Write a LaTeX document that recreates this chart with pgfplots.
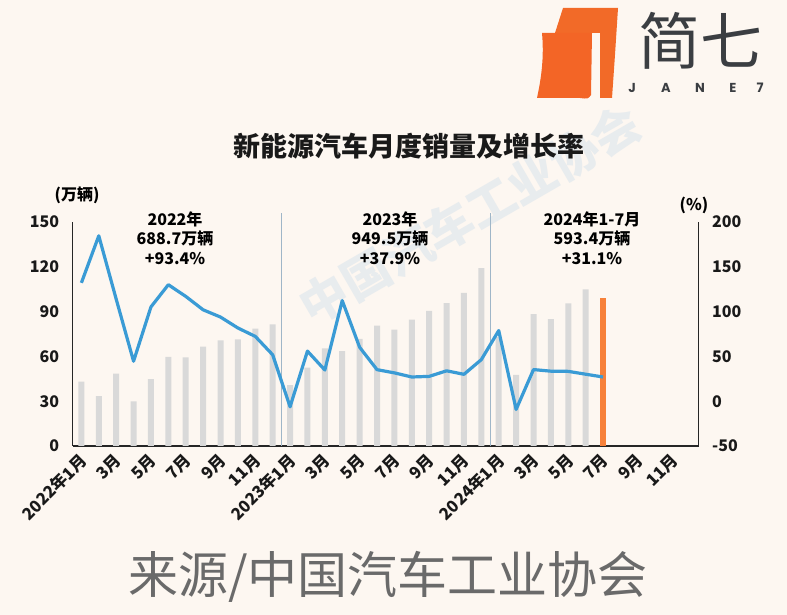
\documentclass[border=0pt]{standalone}
\usepackage{pgfplots}
\pgfplotsset{compat=1.18}
\usepackage{fontspec}
\setmainfont{Noto Sans CJK SC}
\newfontfamily\logofont{Poppins}
\definecolor{bg}{HTML}{FDF7F1}
\definecolor{bargray}{HTML}{D9D9D9}
\definecolor{barorange}{HTML}{F7813A}
\definecolor{lineblue}{HTML}{3A9BD5}
\definecolor{vline}{HTML}{9FB6C8}
\definecolor{logoorange}{HTML}{F26A28}
\definecolor{logogray}{HTML}{3B3E42}
\definecolor{srcgray}{HTML}{6A6A6A}
\definecolor{wm}{HTML}{E8ECEE}
\pgfplotstableread{
x v
0 43.1
1 33.4
2 48.4
3 29.9
4 44.7
5 59.6
6 59.3
7 66.6
8 70.8
9 71.4
10 78.6
11 81.4
12 40.8
13 52.5
14 65.3
15 63.6
16 71.7
17 80.6
18 78.0
19 84.6
20 90.4
21 95.6
22 102.6
23 119.1
24 72.9
25 47.7
26 88.3
27 85.0
28 95.5
29 104.9
}\sales
\pgfplotstableread{
x v
30 99.1
}\salesjul
\pgfplotstableread{
x g
0 132.1
1 184.6
2 114.0
3 44.6
4 105.2
5 130.0
6 117.0
7 102.0
8 93.9
9 81.7
10 72.3
11 51.8
12 -6.3
13 55.9
14 34.8
15 112.3
16 60.2
17 35.2
18 31.6
19 27.0
20 27.7
21 33.9
22 30.0
23 46.4
24 78.8
25 -9.2
26 35.3
27 33.5
28 33.3
29 30.1
30 27.0
}\growth
\begin{document}
\begin{tikzpicture}[x=1pt,y=1pt]
\fill[bg] (0,0) rectangle (787,615);
% watermark
\node[rotate=30, text=wm, font=\bfseries\fontsize{48}{48}\selectfont] at (470,400) {中国汽车工业协会};
\begin{axis}[
  at={(72.7pt,169pt)}, anchor=south west, scale only axis,
  width=626pt, height=224pt,
  xmin=-0.5, xmax=35.5, ymin=0, ymax=150,
  axis x line*=bottom, axis y line*=left,
  axis line style={-, line width=1.1pt, black!85},
  ybar, bar width=6pt, bar shift=0pt,
  ytick={0,30,60,90,120,150},
  xtick={0,2,...,34},
  xticklabels={2022年1月,3月,5月,7月,9月,11月,2023年1月,3月,5月,7月,9月,11月,2024年1月,3月,5月,7月,9月,11月},
  major tick length=0pt,
  /pgf/number format/assume math mode=true,
  yticklabel style={font=\bfseries\fontsize{16}{16}\selectfont, text=black!90, xshift=-10pt},
  xticklabel style={xshift=-3pt, yshift=-6pt, rotate=45, anchor=north east, font=\bfseries\fontsize{16.5}{16.5}\selectfont, text=black!90, inner sep=0pt},
  clip=false,
]
\addplot[fill=bargray, draw=none] table[x=x, y=v] {\sales};
\addplot[fill=barorange, draw=none] table[x=x, y=v] {\salesjul};
\draw[vline, line width=0.8pt] (axis cs:11.5,0) -- (axis cs:11.5,156);
\draw[vline, line width=0.8pt] (axis cs:23.5,0) -- (axis cs:23.5,156);
\end{axis}
\begin{axis}[
  at={(72.7pt,169pt)}, anchor=south west, scale only axis,
  width=626pt, height=224pt,
  xmin=-0.5, xmax=35.5, ymin=-50, ymax=200,
  axis x line=none, axis y line*=right,
  axis line style={-, line width=1.1pt, black!85},
  ytick={-50,0,50,100,150,200},
  major tick length=0pt,
  /pgf/number format/assume math mode=true,
  yticklabel style={font=\bfseries\fontsize{16}{16}\selectfont, text=black!90, xshift=10pt},
  clip=false,
]
\addplot[color=lineblue, line width=3.2pt, line join=round, mark=none] table[x=x, y=g] {\growth};
\end{axis}
% axis unit labels
\node[font=\bfseries\fontsize{16}{16}\selectfont] at (77,420) {(万辆)};
\node[font=\bfseries\fontsize{16}{16}\selectfont] at (694,410) {(\%)};
% annotations
\node[align=center, font=\bfseries\fontsize{16}{19.5}\selectfont] at (175,377) {2022年\\688.7万辆\\+93.4\%};
\node[align=center, font=\bfseries\fontsize{16}{19.5}\selectfont] at (390,377) {2023年\\949.5万辆\\+37.9\%};
\node[align=center, font=\bfseries\fontsize{16}{19.5}\selectfont] at (592,377) {2024年1-7月\\593.4万辆\\+31.1\%};
% title
\node[font=\bfseries\fontsize{27}{27}\selectfont, text=black!90] at (409,469) {新能源汽车月度销量及增长率};
% source
\node[font=\fontsize{50}{50}\selectfont, text=srcgray] at (388,38) {来源/中国汽车工业协会};
% logo
\fill[logoorange] (563,607) -- (618,607) .. controls (615,560) .. (612,517) -- (600,517) -- (600,582) -- (555,582) -- cycle;
\fill[logoorange!95!red] (542,582) -- (592,582) -- (591,520) .. controls (588,516) .. (580,517) -- (537,517) .. controls (542,540) and (544,560) .. cycle;
\node[font=\fontsize{62}{62}\selectfont, text=logogray] at (700,574) {简七};
\foreach \xx/\l in {632/J,666/A,700/N,733/E,760/7}{
  \node[font=\logofont\bfseries\fontsize{13}{13}\selectfont, text=logogray] at (\xx,527) {\l};
}
\pgfresetboundingbox
\path (0,0) rectangle (787,615);
\end{tikzpicture}
\end{document}
